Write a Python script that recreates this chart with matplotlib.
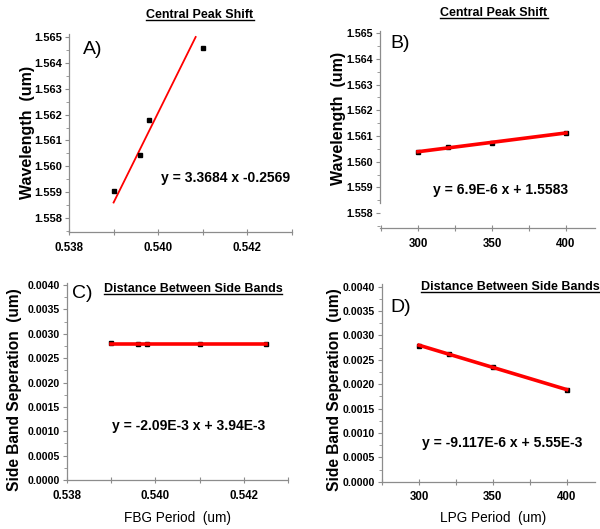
import matplotlib
matplotlib.use('Agg')
import matplotlib.pyplot as plt
from matplotlib.lines import Line2D
from matplotlib.ticker import MultipleLocator, FormatStrFormatter

# A) central peak vs FBG period
fbg_period_a = [0.5390, 0.5396, 0.5398, 0.5410]
wavelength_a = [1.55903, 1.56042, 1.56180, 1.56459]
fit_a_x = [0.5390, 0.54084]
fit_a_y = [1.55860, 1.56500]

# B) central peak vs LPG period
lpg_period_b = [300, 320, 350, 400]
wavelength_b = [1.56039, 1.56059, 1.56074, 1.56111]
fit_b_x = [300, 400]
fit_b_y = [1.56039, 1.56112]

# C) side band separation vs FBG period
fbg_period_c = [0.5390, 0.5396, 0.5398, 0.5410, 0.5425]
separation_c = [0.00281, 0.00280, 0.00279, 0.00280, 0.00280]
fit_c_x = [0.5390, 0.5425]
fit_c_y = [0.00280, 0.00280]

# D) side band separation vs LPG period
lpg_period_d = [300, 320, 350, 400]
separation_d = [0.00279, 0.00262, 0.00236, 0.00189]
fit_d_x = [300, 400]
fit_d_y = [0.00280, 0.00189]

W, H = 600, 529
FONT = ['Liberation Sans', 'DejaVu Sans']
GREY = '#8c8c8c'

fig = plt.figure(figsize=(6, 5.29), dpi=100)


def px_axes(left, top, right, bottom):
    return fig.add_axes([left / W, 1 - bottom / H, (right - left) / W, (bottom - top) / H])


def px_text(x, y, s, **kw):
    return fig.text(x / W, 1 - y / H, s, **kw)


def style(ax, xlim, ylim, xmaj, xmin, ymaj, ymin, yfmt, xfmt, ysize):
    ax.set_xlim(*xlim)
    ax.set_ylim(*ylim)
    for side in ['top', 'right']:
        ax.spines[side].set_visible(False)
    for side in ['left', 'bottom']:
        ax.spines[side].set_color(GREY)
        ax.spines[side].set_linewidth(0.9)
    ax.xaxis.set_major_locator(MultipleLocator(xmaj))
    ax.xaxis.set_minor_locator(MultipleLocator(xmin))
    ax.yaxis.set_major_locator(MultipleLocator(ymaj))
    ax.yaxis.set_minor_locator(MultipleLocator(ymin))
    ax.yaxis.set_major_formatter(FormatStrFormatter(yfmt))
    ax.xaxis.set_major_formatter(FormatStrFormatter(xfmt))
    ax.tick_params(axis='y', which='major', direction='out', length=3, width=0.8,
                   color=GREY, pad=2)
    ax.tick_params(axis='y', which='minor', direction='out', length=2, width=0.6, color=GREY)
    ax.tick_params(axis='x', which='major', direction='inout', length=4, width=0.8,
                   color=GREY, pad=5)
    ax.tick_params(axis='x', which='minor', direction='inout', length=4, width=0.8, color=GREY)
    for lab in ax.get_xticklabels():
        lab.set_fontfamily(FONT)
        lab.set_fontweight('bold')
        lab.set_fontsize(8.3)
    for lab in ax.get_yticklabels():
        lab.set_fontfamily(FONT)
        lab.set_fontweight('bold')
        lab.set_fontsize(ysize)
    ax.patch.set_alpha(0)


# panel A
ax_a = px_axes(69, 34.4, 292, 232)
style(ax_a, (0.538, 0.543), (1.55746, 1.5651), 0.002, 0.001, 0.001, 0.0005, '%.3f', '%.3f', 8)
ax_a.plot(fit_a_x, fit_a_y, color='red', lw=1.3, zorder=2)
ax_a.plot(fbg_period_a, wavelength_a, 's', color='black', ms=3, zorder=3)

# panel B
ax_b = px_axes(380, 30.7, 595, 228)
style(ax_b, (274.3, 419.6), (1.55742, 1.5651), 50, 25, 0.001, 0.0005, '%.3f', '%d', 7.7)
ax_b.spines['left'].set_bounds(1.5584, 1.5651)
ax_b.plot(lpg_period_b, wavelength_b, 's', color='black', ms=3, zorder=2)
ax_b.plot(fit_b_x, fit_b_y, color='red', lw=2.6, zorder=3)

# panel C
ax_c = px_axes(67, 282.6, 288, 480)
style(ax_c, (0.538, 0.543), (0, 0.00405), 0.002, 0.001, 0.0005, 0.00025, '%.4f', '%.3f', 7.6)
ax_c.plot(fbg_period_c, separation_c, 's', color='black', ms=3, zorder=2)
ax_c.plot(fit_c_x, fit_c_y, color='red', lw=2.6, zorder=3)

# panel D
ax_d = px_axes(382, 284.3, 595, 481.7)
style(ax_d, (274.9, 419.2), (0, 0.00405), 50, 25, 0.0005, 0.00025, '%.4f', '%d', 7.6)
ax_d.plot(lpg_period_d, separation_d, 's', color='black', ms=3, zorder=2)
ax_d.plot(fit_d_x, fit_d_y, color='red', lw=2.6, zorder=3)

# y labels
ylab_kw = dict(rotation=90, ha='center', va='center', fontfamily=FONT, fontweight='bold')
px_text(28, 132, 'Wavelength  (um)', fontsize=11.5, **ylab_kw)
px_text(338, 118, 'Wavelength  (um)', fontsize=11.5, **ylab_kw)
px_text(15, 390, 'Side Band Seperation  (um)', fontsize=11.2, **ylab_kw)
px_text(335, 390, 'Side Band Seperation  (um)', fontsize=11.2, **ylab_kw)

# x labels
px_text(177, 518, 'FBG Period  (um)', ha='center', va='center', fontfamily=FONT, fontsize=9.8)
px_text(493, 518, 'LPG Period  (um)', ha='center', va='center', fontfamily=FONT, fontsize=9.8)

# panel letters
for x, y, s in [(83, 50, 'A)'), (390, 43, 'B)'), (72, 294, 'C)'), (390, 307, 'D)')]:
    px_text(x, y, s, ha='left', va='center', fontfamily=FONT, fontsize=14)

# fit equations
eq_kw = dict(ha='left', va='center', fontfamily=FONT, fontweight='bold', fontsize=10)
px_text(161, 178, 'y = 3.3684 x -0.2569', **eq_kw)
px_text(433, 190, 'y = 6.9E-6 x + 1.5583', **eq_kw)
px_text(112, 426, 'y = -2.09E-3 x + 3.94E-3', **eq_kw)
px_text(422, 443, 'y = -9.117E-6 x + 5.55E-3', **eq_kw)

# titles, underlined
title_kw = dict(ha='center', va='center', fontfamily=FONT, fontweight='bold', fontsize=9)
titles = [px_text(200, 15, 'Central Peak Shift', **title_kw),
          px_text(494, 13, 'Central Peak Shift', **title_kw),
          px_text(193, 289, 'Distance Between Side Bands', **title_kw),
          px_text(510, 287, 'Distance Between Side Bands', **title_kw)]

renderer = fig.canvas.get_renderer()
for t in titles:
    bb = t.get_window_extent(renderer)
    y = (bb.y0 + 1) / fig.bbox.height
    fig.add_artist(Line2D([bb.x0 / fig.bbox.width, bb.x1 / fig.bbox.width], [y, y],
                          color='black', lw=1.0, transform=fig.transFigure))

fig.savefig('out.png', dpi=100)
